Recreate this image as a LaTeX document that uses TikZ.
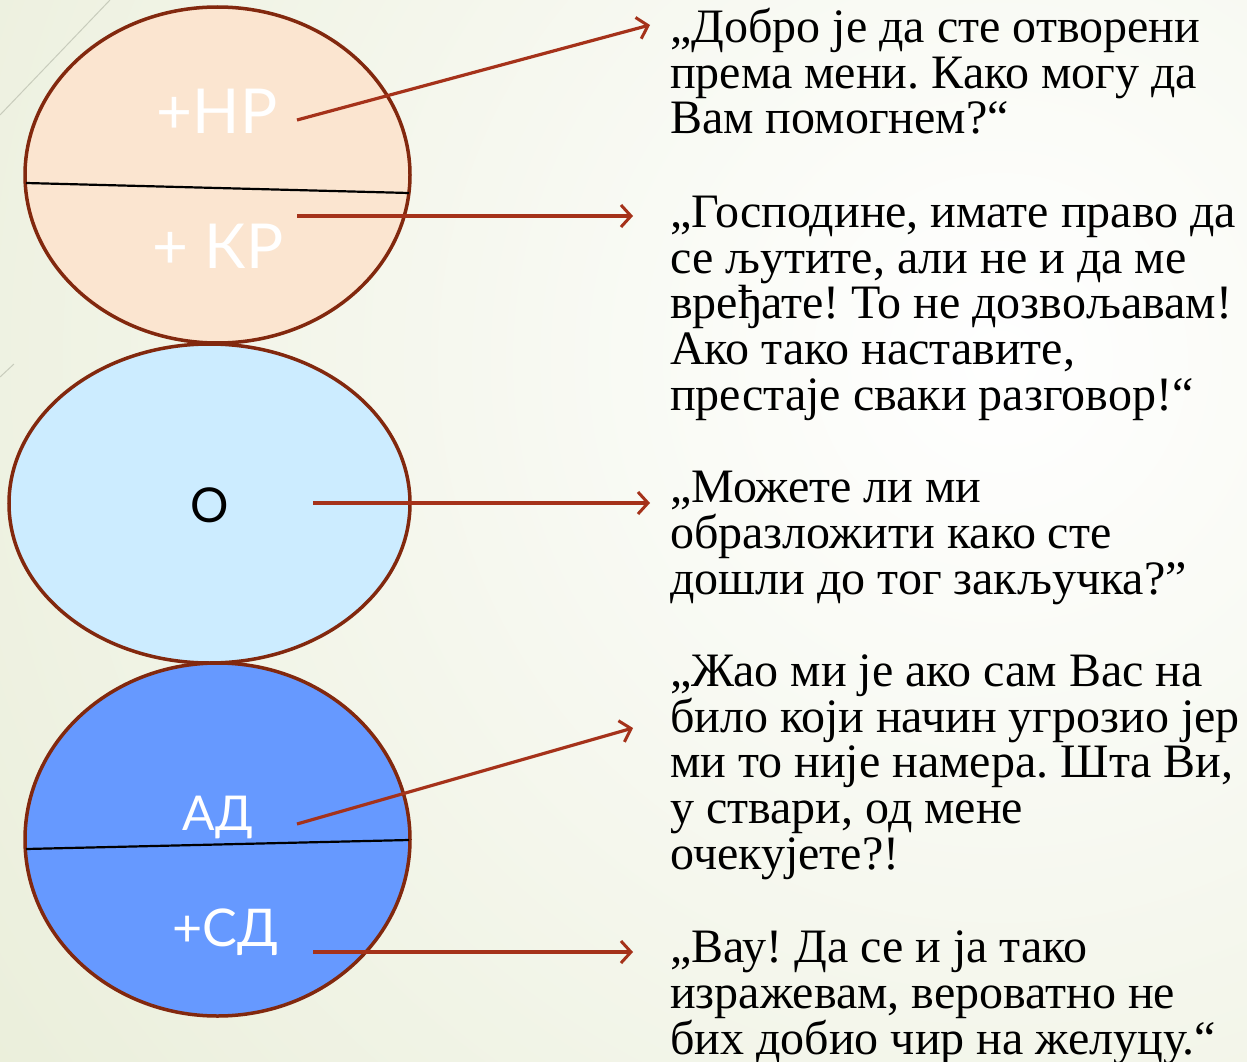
\documentclass[tikz,border=0pt]{standalone}
\usepackage{fontspec}
\setmainfont{Liberation Serif}
\newfontfamily\labfont{Lato}
\usetikzlibrary{arrows.meta}
\definecolor{bggreen}{HTML}{E6EBD3}
\definecolor{peach}{HTML}{FBE5D0}
\definecolor{lightblue}{HTML}{CCECFF}
\definecolor{midblue}{HTML}{6699FF}
\definecolor{rimred}{HTML}{82280E}
\definecolor{arrowred}{HTML}{A5321A}
\definecolor{decoline}{HTML}{C8CCBC}
\frenchspacing
\begin{document}
\begin{tikzpicture}[x=1pt,y=-1pt,
  rim/.style={draw=rimred,line width=3.5pt},
  divider/.style={draw=black,line width=2.2pt},
  pointer/.style={draw=arrowred,line width=3.2pt,-{Straight Barb[length=10pt,width=22pt,line width=3pt]}},
  lab/.style={font=\labfont\fontsize{62}{62}\selectfont,text=white,anchor=base,inner sep=0pt},
  quote/.style={font=\fontsize{48}{45.6}\selectfont,align=left,anchor=base west,inner sep=0pt}]
\useasboundingbox (0,0) rectangle (1247,1062);
% background
\fill[bggreen] (0,0) rectangle (1247,1062);
\begin{scope}
\clip (0,0) rectangle (1247,1062);
\shade[inner color=white,outer color=bggreen] (1000,360) circle (1500);
\end{scope}
\draw[decoline,line width=1pt] (0,115) -- (110,0);
\draw[decoline,line width=1pt] (0,377) -- (14,364);
% ellipses
\draw[rim,fill=peach] (217.5,175) ellipse [x radius=192.5,y radius=168];
\draw[rim,fill=lightblue] (209.5,503.5) ellipse [x radius=200.5,y radius=159.5];
\draw[rim,fill=midblue] (217.5,839.5) ellipse [x radius=192.5,y radius=176.5];
\draw[divider] (26,183) -- (409,193);
\draw[divider] (26,849) -- (409,840);
% labels
\node[lab] (hp) at (217,133) {+НР};
\node[lab] (kp) at (218,268) {+ КР};
\node[lab,text=black,font=\labfont\fontsize{48}{48}\selectfont] (o) at (210,522) {О};
\node[lab,font=\labfont\fontsize{48}{48}\selectfont] (ad) at (218,830) {АД};
\node[lab,font=\labfont\fontsize{52}{52}\selectfont] (sd) at (225,946) {+СД};
% quotes (anchored at the baseline of the last line)
\node[quote] (q1) at (670,134) {„Добро је да сте отворени\\према мени. Како могу да\\Вам помогнем?“};
\node[quote] (q2) at (670,410) {„Господине, имате право да\\се љутите, али не и да ме\\вређате! То не дозвољавам!\\Ако тако наставите,\\престаје сваки разговор!“};
\node[quote] (q3) at (670,594) {„Можете ли ми\\образложити како сте\\дошли до тог закључка?”};
\node[quote] (q4) at (670,869) {„Жао ми је ако сам Вас на\\било који начин угрозио јер\\ми то није намера. Шта Ви,\\у ствари, од мене\\очекујете?!};
\node[quote] (q5) at (670,1054) {„Вау! Да се и ја тако\\изражевам, вероватно не\\бих добио чир на желуцу.“};
% connector ends
\coordinate (s1) at (297,120); \coordinate (e1) at (650,25);
\coordinate (s2) at (297,216); \coordinate (e2) at (633,216);
\coordinate (s3) at (313,503); \coordinate (e3) at (650,503);
\coordinate (s4) at (297,824); \coordinate (e4) at (633,728);
\coordinate (s5) at (313,952); \coordinate (e5) at (633,952);
\draw[pointer] (s1) -- (e1);
\draw[pointer] (s2) -- (e2);
\draw[pointer] (s3) -- (e3);
\draw[pointer] (s4) -- (e4);
\draw[pointer] (s5) -- (e5);
\end{tikzpicture}
\end{document}
